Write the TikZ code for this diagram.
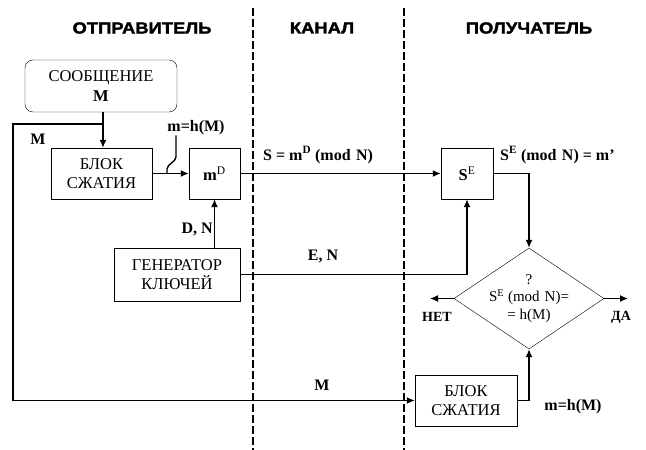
\documentclass[tikz,border=0pt]{standalone}
\usepackage{fontspec}
\setmainfont{Liberation Serif}
\newfontfamily\headfont{Liberation Sans Bold}[FakeStretch=1.15,FakeBold=2]
\usepackage{tikz}
\usetikzlibrary{arrows.meta,positioning,shapes.geometric,calc}
\tikzset{
  block/.style={draw,thin,rectangle,align=center,inner sep=0pt,
    font=\fontsize{16.5}{19}\selectfont},
  msgbox/.style={block,rounded corners=8pt,font=\fontsize{16.5}{20}\selectfont},
  decision/.style={draw,thin,diamond,inner sep=0pt,minimum width=150pt,
    minimum height=101pt},
  heading/.style={font=\headfont\fontsize{16}{16}\selectfont},
  lbl/.style={font=\bfseries\fontsize{16}{16}\selectfont,inner sep=0pt},
  small/.style={font=\bfseries\fontsize{14}{14}\selectfont,inner sep=0pt},
  wire/.style={line width=1.4pt},
  flow/.style={wire,-{Latex[length=8pt,width=7pt]}},
  divider/.style={line width=1.3pt,dash pattern=on 8pt off 3pt}
}
\begin{document}
\begin{tikzpicture}[x=1pt,y=-1pt]
  \useasboundingbox (0,0) rectangle (646,450);
  % column titles and dividers
  \node[heading] (tsend) at (142,28) {ОТПРАВИТЕЛЬ};
  \node[heading] (tchan) at (322,28) {КАНАЛ};
  \node[heading] (trecv) at (529,28) {ПОЛУЧАТЕЛЬ};
  \draw[divider] (253,8) -- (253,450);
  \draw[divider] (404,8) -- (404,450);
  % sender
  \node[msgbox,minimum width=152pt,minimum height=52pt] (msg) at (101,86)
    {СООБЩЕНИЕ\\\textbf{M}};
  \node[block,minimum width=101pt,minimum height=51pt] (hashS) at (101.5,173.5)
    {БЛОК\\СЖАТИЯ};
  \node[block,minimum width=51pt,minimum height=51pt] (sign) at (214.5,173.5)
    {\textbf{m}\textsuperscript{D}};
  \node[block,minimum width=126pt,minimum height=53pt] (keygen) at (177,274.5)
    {ГЕНЕРАТОР\\КЛЮЧЕЙ};
  % receiver
  \node[block,minimum width=52pt,minimum height=51pt] (verify) at (467,173.5)
    {\textbf{S}\textsuperscript{E}};
  \node[decision] (check) at (529,298.5) {};
  \node[align=center,inner sep=0pt,font=\fontsize{15}{17.5}\selectfont] (checktxt)
    at (check) {?\\S\textsuperscript{E} (mod\,\,N)=\\= h(M)};
  \node[block,minimum width=102pt,minimum height=51pt] (hashR) at (466,400.5)
    {БЛОК\\СЖАТИЯ};
  \coordinate (split) at (103,124);
  \coordinate (loop) at (13,400.5);
  \coordinate (no) at (430,298.5);
  \coordinate (yes) at (628,298.5);
  % labels
  \node[lbl] (mTop) at (38,139) {M};
  \node[lbl] (hTop) at (196,128) {m=h(M)};
  \node[lbl] (dn) [anchor=east] at (213,229) {D, N};
  \node[lbl] (sigLbl) [anchor=west] at (263,155)
    {S = m\textsuperscript{D} (mod\,\,N)};
  \node[lbl] (en) at (323,256) {E, N};
  \node[lbl] (recLbl) [anchor=west] at (500,155)
    {S\textsuperscript{E} (mod\,\,N) = m'};
  \node[small] (noLbl) at (437,317) {НЕТ};
  \node[small] (yesLbl) at (621,317) {ДА};
  \node[lbl] (mBot) at (322,385) {M};
  \node[lbl] (hBot) at (573,407) {m=h(M)};
  % connectors
  \draw[flow] (msg.south -| split) -- (hashS.north -| split);
  \draw[flow] (split) -| (loop) -- (hashR.west);
  \draw[flow] (hashS) -- (sign);
  \draw[wire,rounded corners=2pt] (hTop.south -| 176,0) -- (176,159) -- (167,167)
    -- (167,173.5);
  \draw[flow] (sign.south |- keygen.north) -- (sign.south);
  \draw[flow] (sign) -- (verify);
  \draw[flow] (keygen.east) -| (verify.south);
  \draw[flow] (verify.east) -| (check.north);
  \draw[flow] (check.west) -- (no);
  \draw[flow] (check.east) -- (yes);
  \draw[flow] (hashR.east) -| (check.south);
\end{tikzpicture}
\end{document}
